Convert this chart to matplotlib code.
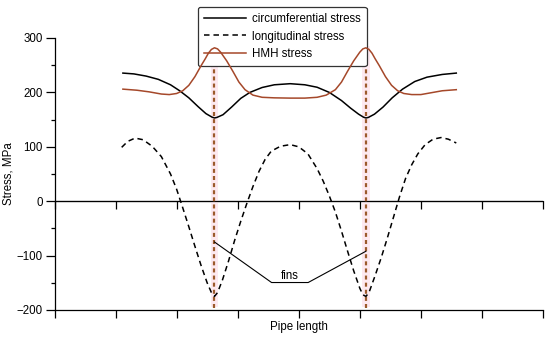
import matplotlib
matplotlib.use("Agg")
import matplotlib.pyplot as plt
from matplotlib.ticker import MultipleLocator

plt.rcParams['font.family'] = ['Liberation Sans', 'DejaVu Sans']

# ---- data (x in pipe-length units, stress in MPa) ----
circ_x = [1.12, 1.30, 1.50, 1.70, 1.90, 2.05, 2.20, 2.35, 2.48, 2.58, 2.62, 2.66, 2.76,
          2.90, 3.05, 3.20, 3.40, 3.60, 3.86, 4.10, 4.30, 4.50, 4.70, 4.85, 4.98, 5.06,
          5.10, 5.14, 5.24, 5.38, 5.53, 5.70, 5.90, 6.10, 6.35, 6.58]
circ_y = [235.5, 234, 230, 224, 214, 203, 190, 174, 161, 154.5, 153, 154, 159,
          173, 189, 200, 209, 214, 216, 214, 209.5, 200, 185, 171, 160, 154.5,
          153, 154, 160, 173, 190, 206, 220, 228, 233, 235.5]

hmh_x = [1.12, 1.35, 1.55, 1.75, 1.88, 2.00, 2.10, 2.20, 2.30, 2.40, 2.47, 2.52, 2.57,
         2.62, 2.67, 2.72, 2.82, 2.92, 3.02, 3.12, 3.25, 3.40, 3.60, 3.86, 4.10, 4.30,
         4.45, 4.60, 4.70, 4.80, 4.90, 5.00, 5.05, 5.10, 5.15, 5.20, 5.25, 5.32, 5.42,
         5.52, 5.62, 5.72, 5.85, 6.00, 6.15, 6.35, 6.58]
hmh_y = [206, 204, 201, 197, 196, 198, 203, 213, 229, 249, 262, 272, 279,
         282, 280, 274, 258, 239, 219, 205, 195, 191, 190, 189.5, 189.5, 191,
         195, 205, 219, 239, 258, 274, 280, 282, 279, 272, 262, 249, 229,
         213, 203, 198, 196, 196, 199, 203, 205]

long_x = [1.10, 1.20, 1.32, 1.45, 1.60, 1.75, 1.90, 2.00, 2.10, 2.20, 2.30, 2.40, 2.50,
          2.57, 2.62, 2.67, 2.75, 2.85, 2.95, 3.05, 3.15, 3.25, 3.35, 3.45, 3.55, 3.70,
          3.86, 4.00, 4.15, 4.30, 4.40, 4.50, 4.60, 4.70, 4.80, 4.90, 5.00, 5.05, 5.10,
          5.15, 5.25, 5.35, 5.45, 5.55, 5.65, 5.75, 5.85, 5.95, 6.07, 6.20, 6.33, 6.45, 6.58]
long_y = [99, 110, 116, 113, 101, 82, 50, 22, -12, -47, -83, -118, -150,
          -168, -175, -168, -145, -110, -72, -37, -4, 27, 55, 77, 92, 101,
          104, 100, 87, 60, 37, 10, -20, -55, -92, -128, -160, -172, -175,
          -168, -137, -104, -68, -30, 8, 42, 67, 87, 104, 114, 117, 114, 107]

fin_x = [2.62, 5.10]
fin_label = "fins"
fin_label_x = 3.855
fin_label_y = -138
fin_line_start_y = [-75, -92]
fin_line_knee_x = [3.555, 4.154]
fin_line_knee_y = -149.5

labels = ["circumferential stress", "longitudinal stress", "HMH stress"]
y_ticks = [-200, -100, 0, 100, 200, 300]
x_ticks = [0, 1, 2, 3, 4, 5, 6, 7, 8]

# ---- figure ----
fig = plt.figure(figsize=(5.5, 3.38), dpi=100)
ax = fig.add_axes([54.5/550, 1-310/338, (543-54.5)/550, (310-38)/338])

brown = '#a5482a'
fin_brown = '#9c5a2c'
fs = 8.3

# faint highlight bands at fins
for fx in fin_x:
    ax.axvspan(fx - 0.06, fx + 0.06, ymin=0.01, ymax=0.97, color='#fde9f0', lw=0, zorder=0.5)

ax.plot(circ_x, circ_y, color='black', lw=1.1, label=labels[0], zorder=3)
ax.plot(long_x, long_y, color='black', lw=1.1, ls=(0, (3.6, 2.6)), label=labels[1], zorder=3)
ax.plot(hmh_x, hmh_y, color=brown, lw=1.1, label=labels[2], zorder=4)

ax.vlines(fin_x, -197, 246, colors=fin_brown, lw=1.6, linestyles=(0, (1.8, 1.4)), zorder=2.5)

# fins annotation
ax.plot([fin_x[0], fin_line_knee_x[0], fin_line_knee_x[1], fin_x[1]],
        [fin_line_start_y[0], fin_line_knee_y, fin_line_knee_y, fin_line_start_y[1]],
        color='black', lw=0.8, zorder=3)
ax.text(fin_label_x, fin_label_y, fin_label, ha='center', va='center', fontsize=fs)

ax.axhline(0, color='black', lw=0.9, zorder=2)

ax.set_xlim(x_ticks[0], x_ticks[-1])
ax.set_ylim(-200, 300)
ax.set_yticks(y_ticks)
ax.set_yticklabels([f"{v}".replace('-', '\u2212') for v in y_ticks])
ax.yaxis.set_minor_locator(MultipleLocator(50))
ax.set_xticks(x_ticks)
ax.tick_params(axis='x', labelbottom=False, length=5.8, width=0.9, direction='out')
ax.tick_params(axis='y', which='major', length=6.3, width=0.9, labelsize=fs, pad=2)
ax.tick_params(axis='y', which='minor', length=3.2, width=0.9)
for s in ['top', 'right']:
    ax.spines[s].set_visible(False)
for s in ['left', 'bottom']:
    ax.spines[s].set_linewidth(0.9)

sec = ax.secondary_xaxis(0.4)
sec.set_xticks(x_ticks)
sec.tick_params(axis='x', labelbottom=False, labeltop=False, length=5.8, width=0.9, direction='out')

ax.set_xlabel("Pipe length", fontsize=fs, labelpad=2)
ax.set_ylabel("Stress, MPa", fontsize=fs, labelpad=1.4)

leg = ax.legend(loc='upper left', bbox_to_anchor=(198/550, 1-7/338), bbox_transform=fig.transFigure,
                fontsize=fs, frameon=True, fancybox=True, framealpha=1, edgecolor='#333333',
                handlelength=3.7, handletextpad=0.5, borderpad=0.5, labelspacing=0.5,
                borderaxespad=0)
leg.get_frame().set_linewidth(0.9)
leg.set_zorder(2)

fig.savefig("out.png", dpi=100)
